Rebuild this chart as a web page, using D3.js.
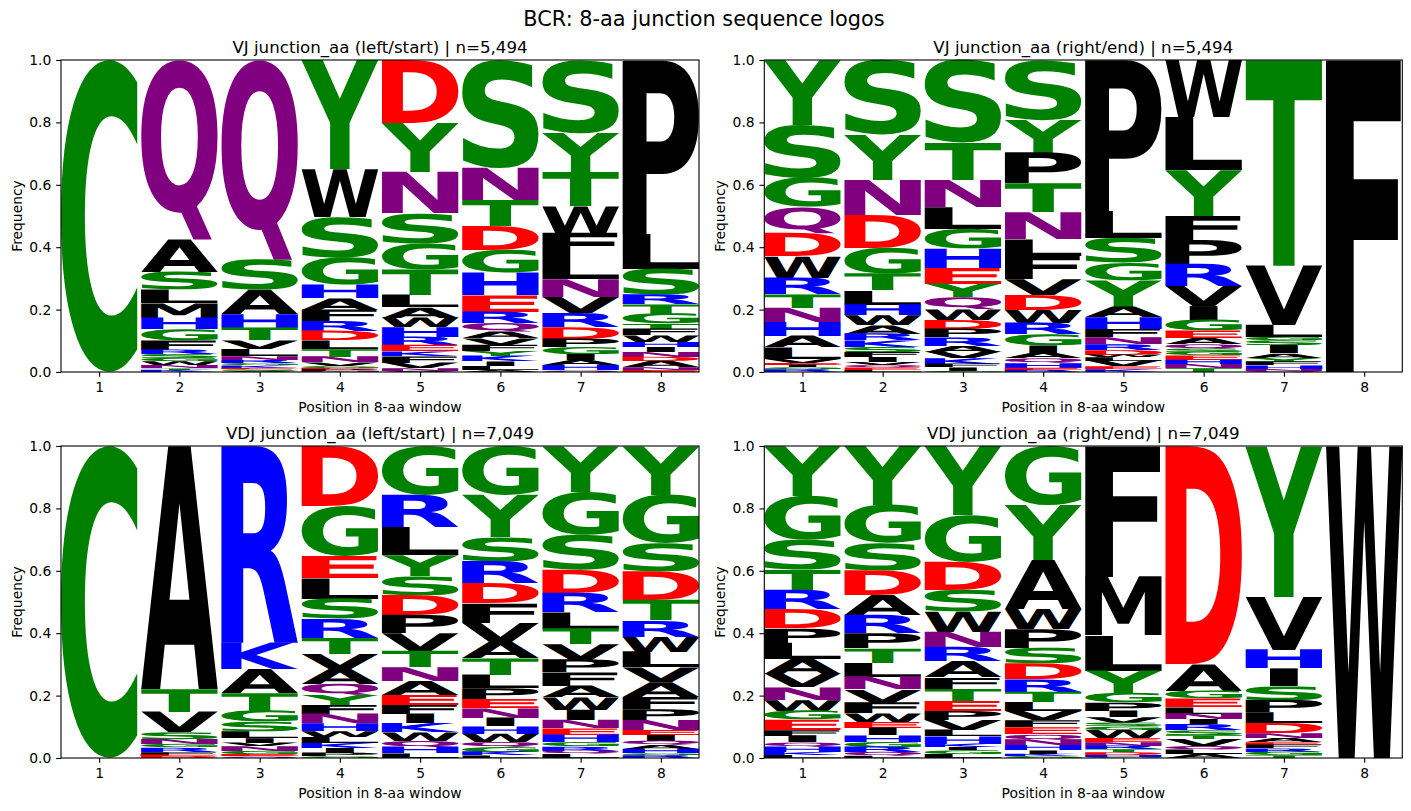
<!DOCTYPE html>
<html>
<head>
<meta charset="utf-8">
<script src="https://cdn.jsdelivr.net/npm/d3@7"></script>
<style>
  html, body { margin: 0; padding: 0; background: #fff; }
  svg text { font-family: "DejaVu Sans", sans-serif; fill: #000; }
  .glyph { font-weight: bold; text-rendering: geometricPrecision; }
  .domain, .tick line { stroke: #000; stroke-width: 1.1px; }
</style>
</head>
<body>
<svg id="viz_area" width="1411" height="811"></svg>
<script>
const positions = [1, 2, 3, 4, 5, 6, 7, 8];
const yTicks = [0, 0.2, 0.4, 0.6, 0.8, 1.0];
const mainTitle = "BCR: 8-aa junction sequence logos";
const panelTitles = [
  "VJ junction_aa (left/start) | n=5,494",
  "VJ junction_aa (right/end) | n=5,494",
  "VDJ junction_aa (left/start) | n=7,049",
  "VDJ junction_aa (right/end) | n=7,049"
];

// letter colours, chemistry scheme
const greenLetters = "GSTYC", purpleLetters = "NQ", blueLetters = "KRH", redLetters = "DE";

// each position is listed from the top of its stack to the bottom
const vjLeft = [
  [["C",1]],
  [["Q",.575],["A",.104],["S",.057],["L",.043],["M",.047],["H",.037],["G",.035],["F",.03],["R",.015],["S",.013],["G",.01],["W",.012],["N",.01],["T",.005],["K",.007]],
  [["Q",.638],["S",.097],["A",.077],["H",.044],["T",.04],["V",.027],["L",.023],["N",.012],["R",.01],["G",.007],["K",.008],["E",.004],["S",.006],["A",.004]],
  [["Y",.353],["W",.155],["S",.131],["G",.088],["H",.043],["A",.037],["F",.037],["R",.032],["D",.03],["L",.028],["T",.025],["N",.018],["V",.011],["G",.007],["E",.004],["P",.006],["N",.004]],
  [["D",.202],["Y",.157],["N",.132],["S",.096],["G",.083],["T",.082],["L",.04],["A",.033],["W",.03],["H",.031],["R",.027],["E",.02],["K",.015],["F",.021],["V",.017],["N",.009],["A",.004]],
  [["S",.346],["N",.103],["T",.083],["D",.077],["G",.073],["H",.072],["E",.053],["R",.037],["Q",.027],["A",.021],["V",.021],["F",.02],["Y",.016],["K",.017],["I",.015],["L",.013],["A",.006]],
  [["S",.234],["Y",.125],["T",.109],["W",.085],["F",.075],["L",.074],["N",.057],["V",.051],["R",.045],["D",.037],["P",.027],["G",.023],["I",.019],["A",.016],["H",.016],["Q",.006]],
  [["P",.555],["L",.112],["S",.083],["R",.031],["T",.03],["G",.032],["T",.016],["F",.021],["W",.021],["H",.016],["I",.016],["N",.016],["D",.014],["A",.02],["N",.009],["E",.006]]
];

const vjRight = [
  [["Y",.208],["S",.17],["G",.094],["Q",.083],["D",.075],["W",.069],["R",.053],["T",.043],["N",.046],["H",.045],["A",.037],["L",.037],["V",.013],["E",.006],["I",.008],["G",.006],["R",.009]],
  [["S",.24],["Y",.144],["N",.112],["D",.106],["G",.082],["T",.054],["L",.045],["H",.035],["W",.031],["A",.027],["R",.022],["K",.021],["S",.016],["F",.016],["I",.016],["V",.01],["Q",.008],["E",.008],["L",.006]],
  [["S",.266],["T",.119],["N",.087],["L",.069],["G",.063],["H",.062],["E",.051],["Y",.043],["Q",.038],["W",.034],["D",.029],["P",.027],["R",.027],["A",.019],["V",.021],["K",.018],["F",.011],["I",.011],["G",.004]],
  [["S",.192],["Y",.106],["P",.099],["T",.093],["N",.086],["L",.053],["F",.075],["V",.05],["D",.049],["W",.042],["R",.037],["G",.035],["I",.024],["A",.017],["Q",.015],["H",.016],["E",.007],["R",.007]],
  [["P",.484],["L",.087],["S",.08],["G",.056],["Y",.085],["A",.034],["H",.038],["F",.026],["N",.022],["R",.018],["D",.016],["W",.008],["L",.012],["V",.018],["E",.009],["K",.009]],
  [["W",.183],["L",.17],["Y",.147],["F",.077],["P",.077],["R",.071],["V",.064],["I",.045],["G",.034],["E",.024],["A",.019],["Q",.015],["S",.011],["G",.011],["E",.015],["H",.014],["N",.013],["T",.012]],
  [["T",.66],["V",.191],["L",.039],["G",.01],["S",.015],["I",.026],["A",.014],["Y",.013],["F",.012],["H",.011],["N",.006],["Q",.004]],
  [["F",1]]
];

const vdjLeft = [
  [["C",1]],
  [["A",.779],["T",.073],["V",.066],["S",.022],["N",.016],["G",.01],["R",.014],["F",.009],["E",.005],["D",.006]],
  [["R",.633],["K",.085],["A",.077],["T",.057],["G",.035],["S",.03],["L",.022],["I",.016],["V",.011],["N",.016],["G",.01],["E",.006],["Q",.006]],
  [["D",.192],["G",.16],["E",.07],["L",.066],["S",.064],["R",.061],["T",.051],["V",.048],["A",.048],["Q",.035],["Y",.032],["F",.029],["N",.03],["H",.025],["W",.018],["L",.019],["K",.016],["I",.016],["P",.011],["G",.006]],
  [["G",.157],["R",.103],["L",.09],["Y",.067],["S",.061],["D",.064],["P",.059],["V",.057],["T",.052],["N",.044],["A",.045],["E",.032],["F",.029],["I",.03],["K",.029],["W",.027],["Q",.019],["H",.021],["L",.015]],
  [["G",.157],["Y",.135],["S",.077],["R",.07],["D",.064],["F",.062],["V",.061],["A",.053],["T",.053],["L",.043],["P",.035],["E",.029],["N",.03],["I",.027],["H",.024],["W",.026],["Q",.016],["G",.016],["K",.012],["L",.008]],
  [["Y",.147],["G",.138],["S",.112],["D",.075],["R",.062],["L",.053],["T",.05],["V",.05],["P",.041],["F",.043],["A",.037],["W",.04],["I",.033],["N",.027],["E",.021],["H",.024],["G",.013],["R",.014],["Q",.01],["L",.013]],
  [["Y",.154],["G",.154],["S",.09],["D",.091],["T",.064],["R",.051],["W",.048],["L",.05],["V",.046],["A",.047],["F",.038],["P",.034],["N",.032],["E",.016],["I",.019],["Q",.013],["A",.013],["H",.014],["G",.006],["R",.009]]
];

const vdjRight = [
  [["Y",.16],["G",.141],["S",.096],["T",.064],["R",.062],["D",.061],["P",.046],["L",.052],["A",.049],["V",.043],["N",.04],["W",.035],["G",.028],["E",.033],["F",.018],["I",.022],["Q",.013],["H",.017],["K",.01],["L",.01]],
  [["Y",.189],["G",.122],["S",.087],["D",.08],["A",.064],["R",.059],["P",.048],["T",.046],["L",.045],["N",.041],["V",.042],["F",.035],["W",.027],["E",.019],["I",.024],["H",.021],["G",.016],["R",.017],["Q",.012],["L",.007]],
  [["Y",.221],["G",.15],["D",.09],["S",.069],["W",.065],["N",.049],["R",.046],["A",.051],["F",.036],["T",.038],["E",.032],["P",.029],["V",.032],["L",.021],["H",.024],["K",.011],["I",.01],["G",.012],["L",.013]],
  [["G",.189],["Y",.176],["A",.157],["W",.064],["P",.06],["S",.05],["D",.05],["R",.04],["T",.033],["L",.029],["V",.029],["F",.022],["E",.022],["Q",.017],["N",.018],["H",.016],["I",.011],["K",.007],["G",.007]],
  [["F",.42],["M",.189],["L",.113],["Y",.072],["G",.03],["P",.027],["I",.021],["V",.018],["S",.011],["G",.011],["W",.027],["E",.013],["N",.012],["R",.011],["T",.009],["D",.009],["H",.006],["G",.004]],
  [["D",.697],["A",.085],["G",.025],["E",.027],["L",.021],["N",.018],["I",.016],["R",.019],["S",.015],["T",.012],["V",.023],["Q",.011],["L",.015],["A",.013]],
  [["Y",.486],["V",.171],["H",.061],["I",.057],["S",.045],["P",.04],["L",.035],["D",.032],["N",.016],["A",.013],["E",.009],["F",.011],["R",.011],["G",.011],["T",.009]],
  [["W",1]]
];

const panelData = [vjLeft, vjRight, vdjLeft, vdjRight];

const colour = l => greenLetters.includes(l) ? "green"
  : purpleLetters.includes(l) ? "purple"
  : blueLetters.includes(l) ? "blue"
  : redLetters.includes(l) ? "red" : "black";

// ink box of a glyph: draw it once on a canvas and scan the pixels,
// measureText pads the box at big sizes
const fontPx = 400;
const canvas = document.createElement("canvas");
canvas.width = 800;
canvas.height = 800;
const ctx = canvas.getContext("2d", {willReadFrequently: true});
const ink = {};
const inkBox = l => {
  if (ink[l]) return ink[l];
  const ox = 100, oy = 500;
  ctx.clearRect(0, 0, 800, 800);
  ctx.font = `bold ${fontPx}px "DejaVu Sans"`;
  ctx.fillText(l, ox, oy);
  const px = ctx.getImageData(0, 0, 800, 800).data;
  let left = 800, right = 0, top = 800, bottom = 0;
  for (let r = 0; r < 800; r++) {
    for (let c = 0; c < 800; c++) {
      if (px[(r * 800 + c) * 4 + 3] > 127) {
        left = Math.min(left, c); right = Math.max(right, c + 1);
        top = Math.min(top, r); bottom = Math.max(bottom, r + 1);
      }
    }
  }
  ink[l] = {left: left - ox, right: right - ox, top: top - oy, bottom: bottom - oy};
  return ink[l];
};
const inkWidth = l => inkBox(l).right - inkBox(l).left;

const svg = d3.select("#viz_area");
const axW = 638, axH = 312;
const origins = [[61, 60], [764.3, 60], [61, 446], [764.3, 446]];

svg.append("text")
  .attr("x", 704).attr("y", 26)
  .attr("text-anchor", "middle")
  .style("font-size", "20.83px")
  .text(mainTitle);

panelData.forEach((columns, i) => {
  const g = svg.append("g")
    .attr("transform", "translate(" + origins[i][0] + "," + origins[i][1] + ")");

  // x limits hug the outer letters, as in the logo
  const x = d3.scaleLinear().domain([0.525, 8.475]).range([0, axW]);
  const y = d3.scaleLinear().domain([0, 1]).range([axH, 0]);

  // letters first, so the axes sit on top
  columns.forEach((stack, c) => {
    const total = d3.sum(stack, d => d[1]);
    const x0 = x(positions[c] - 0.475), x1 = x(positions[c] + 0.475);
    const boxW = x1 - x0;
    let top = 1;
    stack.forEach(([letter, freq]) => {
      const bottom = top - freq / total;
      const box = inkBox(letter);
      // narrow letters are not stretched more than E
      const sx = boxW / Math.max(inkWidth(letter), inkWidth("E"));
      const sy = (y(bottom) - y(top)) / (box.bottom - box.top);
      // F keeps to the left edge of its box in the reference, I stays centred
      const tx = letter === "F"
        ? x0 - sx * box.left
        : (x0 + x1) / 2 - sx * (box.left + box.right) / 2;
      const ty = y(top) - sy * box.top;
      g.append("text")
        .attr("class", "glyph")
        .attr("transform", `translate(${tx},${ty}) scale(${sx},${sy})`)
        .style("font-size", fontPx + "px")
        .style("fill", colour(letter))
        .text(letter);
      top = bottom;
    });
  });

  g.append("rect")
    .attr("width", axW).attr("height", axH)
    .attr("fill", "none").attr("stroke", "#000").attr("stroke-width", 1.1);

  const xAxis = g.append("g")
    .attr("transform", "translate(0," + axH + ")")
    .call(d3.axisBottom(x).tickValues(positions).tickFormat(d3.format("d")).tickSize(4.86).tickPadding(4.8));
  const yAxis = g.append("g")
    .call(d3.axisLeft(y).tickValues(yTicks).tickFormat(d3.format(".1f")).tickSize(4.86).tickPadding(4.8));
  [xAxis, yAxis].forEach(a => {
    a.select(".domain").remove();
    a.selectAll("text").style("font-size", "13.89px").style("font-family", '"DejaVu Sans"');
  });

  g.append("text")
    .attr("x", axW / 2).attr("y", -7)
    .attr("text-anchor", "middle")
    .style("font-size", "16.67px")
    .text(panelTitles[i]);

  g.append("text")
    .attr("x", axW / 2).attr("y", axH + 40)
    .attr("text-anchor", "middle")
    .style("font-size", "13.89px")
    .text("Position in 8-aa window");

  g.append("text")
    .attr("transform", "translate(-39.5," + axH / 2 + ") rotate(-90)")
    .attr("text-anchor", "middle")
    .style("font-size", "13.89px")
    .text("Frequency");
});
</script>
</body>
</html>
